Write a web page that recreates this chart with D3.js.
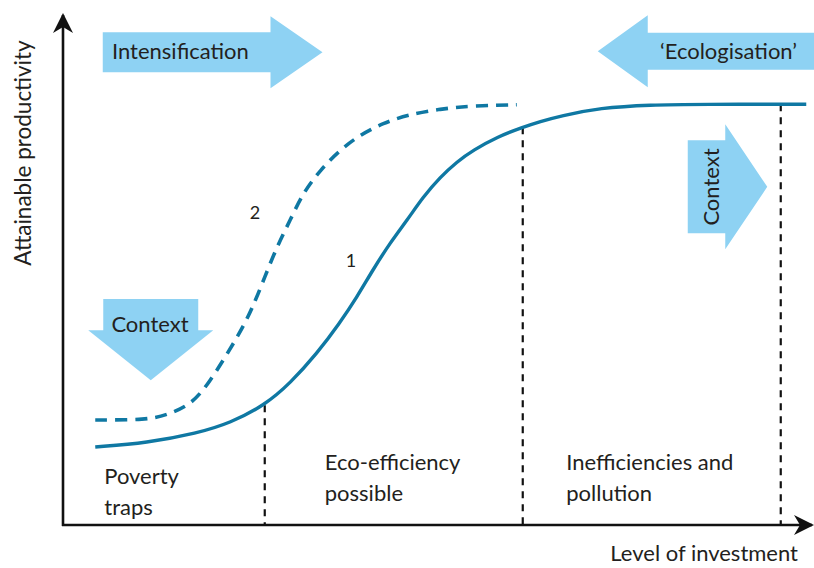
<!DOCTYPE html>
<html>
<head>
<meta charset="utf-8">
<script src="https://cdn.jsdelivr.net/npm/d3@7"></script>
<style>
  body { margin: 0; background: #fff; }
  text { font-family: Lato, "Open Sans", sans-serif; fill: #231f20; }
</style>
</head>
<body>
<svg id="chart" width="814" height="568"></svg>
<script>
// Data (arbitrary units: investment 0-100, productivity 0-100)
var curve1X = [4.3, 11.2, 17.9, 22.3, 26.9, 30.3, 33.9, 36.9, 39.2, 41.3, 43.6, 45.9, 48.0, 50.3, 52.5, 54.7, 57.9, 61.3, 63.6, 66.3, 71.6, 78.3, 85.0, 99.1];
var curve1Y = [15.3, 16.1, 18.0, 20.0, 23.5, 27.8, 33.7, 39.6, 44.7, 50.0, 55.3, 59.8, 64.3, 68.2, 71.2, 73.5, 76.1, 78.0, 79.1, 80.2, 81.8, 82.4, 82.5, 82.5];

var curve2X = [4.3, 11.2, 13.9, 16.9, 19.2, 23.6, 25.3, 26.9, 28.5, 30.3, 32.0, 34.3, 36.9, 39.6, 42.7, 45.9, 50.3, 54.7, 60.5];
var curve2Y = [20.6, 20.6, 21.6, 23.5, 27.1, 37.6, 42.7, 48.6, 54.5, 59.8, 65.1, 69.6, 73.5, 76.5, 78.8, 80.4, 81.6, 82.2, 82.4];

var curveNames = ["1", "2"];
var curveNameX = [38.4, 25.6];
var curveNameY = [50.6, 60.0];

var zoneBoundX = [26.9, 61.3, 95.7];
var zoneBoundTop = [23.5, 78.0, 82.5];

var zoneLabels = [["Poverty", "traps"], ["Eco-efficiency", "possible"], ["Inefficiencies and", "pollution"]];
var zoneLabelX = [5.5, 34.9, 67.1];

var xAxisTitle = "Level of investment";
var yAxisTitle = "Attainable productivity";

// arrows: tail centre -> tip, in data units
var arrowText = ["Intensification", "\u2018Ecologisation\u2019", "Context", "Context"];
var arrowTail = [[5.3, 92.7], [100.5, 92.9], [83.3, 66.3], [11.7, 44.3]];
var arrowTip = [[34.6, 92.7], [71.3, 92.9], [93.9, 66.3], [11.7, 28.4]];

// Setup
const svg = d3.select("#chart");
const margin = { top: 15, bottom: 43, left: 63, right: 1 };
var width = 814, height = 568;

const xscale = d3.scaleLinear().domain([0, 100]).range([margin.left, width - margin.right]);
const yscale = d3.scaleLinear().domain([0, 100]).range([height - margin.bottom, margin.top]);

var curveBlue = "#0f78a3";
var arrowBlue = "#8ed2f3";

// arrow shapes
function arrowPath(t, p, bodyHalf, headHalf, headLen) {
  var dx = p[0] - t[0], dy = p[1] - t[1];
  var len = Math.sqrt(dx * dx + dy * dy);
  var ux = dx / len, uy = dy / len;
  var nx = -uy, ny = ux;
  var bx = p[0] - ux * headLen, by = p[1] - uy * headLen;
  var pts = [
    [t[0] + nx * bodyHalf, t[1] + ny * bodyHalf],
    [bx + nx * bodyHalf, by + ny * bodyHalf],
    [bx + nx * headHalf, by + ny * headHalf],
    [p[0], p[1]],
    [bx - nx * headHalf, by - ny * headHalf],
    [bx - nx * bodyHalf, by - ny * bodyHalf],
    [t[0] - nx * bodyHalf, t[1] - ny * bodyHalf]
  ];
  return "M" + pts.map(d => d.join(",")).join("L") + "Z";
}

var arrowDims = [[20, 36, 52], [18.5, 36, 50], [46.5, 62.5, 42], [47.5, 62.5, 50]];

arrowText.forEach(function(txt, i) {
  var t = [xscale(arrowTail[i][0]), yscale(arrowTail[i][1])];
  var p = [xscale(arrowTip[i][0]), yscale(arrowTip[i][1])];
  svg.append("path")
    .attr("d", arrowPath(t, p, arrowDims[i][0], arrowDims[i][1], arrowDims[i][2]))
    .attr("fill", arrowBlue);
});

svg.append("text").attr("x", 112).attr("y", 59).style("font-size", "22px").text(arrowText[0]);
svg.append("text").attr("x", 797).attr("y", 59).attr("text-anchor", "end").style("font-size", "22px").text(arrowText[1]);
svg.append("text")
  .attr("transform", "translate(719,187) rotate(-90)")
  .attr("text-anchor", "middle")
  .style("font-size", "22px")
  .text(arrowText[2]);
svg.append("text").attr("x", 150).attr("y", 332).attr("text-anchor", "middle").style("font-size", "22px").text(arrowText[3]);

// zone boundaries
zoneBoundX.forEach(function(x, i) {
  svg.append("line")
    .attr("x1", xscale(x)).attr("x2", xscale(x))
    .attr("y1", yscale(zoneBoundTop[i])).attr("y2", yscale(0))
    .attr("stroke", "#111")
    .attr("stroke-width", 2.2)
    .attr("stroke-dasharray", "7,6");
});

// curves
const line = d3.line().x(d => xscale(d[0])).y(d => yscale(d[1])).curve(d3.curveBasis);

svg.append("path")
  .attr("d", line(d3.zip(curve2X, curve2Y)))
  .attr("fill", "none")
  .attr("stroke", curveBlue)
  .attr("stroke-width", 3.6)
  .attr("stroke-dasharray", "12,8");

svg.append("path")
  .attr("d", line(d3.zip(curve1X, curve1Y)))
  .attr("fill", "none")
  .attr("stroke", curveBlue)
  .attr("stroke-width", 3.4);

curveNames.forEach(function(n, i) {
  svg.append("text")
    .attr("x", xscale(curveNameX[i])).attr("y", yscale(curveNameY[i]))
    .attr("text-anchor", "middle")
    .style("font-size", "18px")
    .text(n);
});

// zone labels
zoneLabels.forEach(function(lines, i) {
  var t = svg.append("text").style("font-size", "22px");
  lines.forEach(function(l, j) {
    t.append("tspan")
      .attr("x", xscale(zoneLabelX[i]))
      .attr("y", (i == 0 ? 484 : 470) + j * 31)
      .text(l);
  });
});

// axes
svg.append("defs").append("marker")
  .attr("id", "ah")
  .attr("viewBox", "0 0 10 10")
  .attr("refX", 9).attr("refY", 5)
  .attr("markerWidth", 22).attr("markerHeight", 20)
  .attr("markerUnits", "userSpaceOnUse")
  .attr("orient", "auto")
  .append("path").attr("d", "M0,0L10,5L0,10L3,5Z").attr("fill", "#111");

svg.append("line")
  .attr("x1", xscale(0)).attr("x2", xscale(0))
  .attr("y1", yscale(0) + 1).attr("y2", yscale(100))
  .attr("stroke", "#111").attr("stroke-width", 2.6)
  .attr("marker-end", "url(#ah)");

svg.append("line")
  .attr("x1", xscale(0) - 1).attr("x2", xscale(100) - 1)
  .attr("y1", yscale(0)).attr("y2", yscale(0))
  .attr("stroke", "#111").attr("stroke-width", 2.6)
  .attr("marker-end", "url(#ah)");

svg.append("text")
  .attr("x", 798).attr("y", 561)
  .attr("text-anchor", "end")
  .style("font-size", "22px")
  .text(xAxisTitle);

svg.append("text")
  .attr("transform", "translate(31,153) rotate(-90)")
  .attr("text-anchor", "middle")
  .style("font-size", "22.5px")
  .text(yAxisTitle);
</script>
</body>
</html>
